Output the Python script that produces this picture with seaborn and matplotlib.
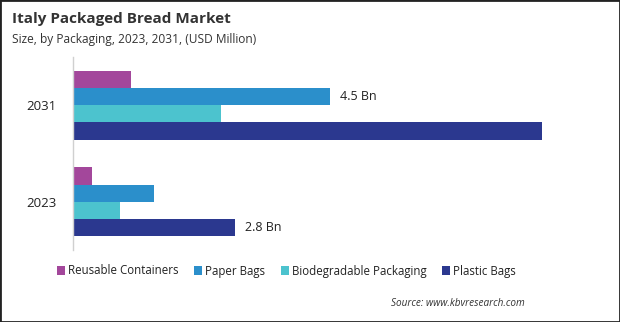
import matplotlib
matplotlib.use("Agg")
import matplotlib.pyplot as plt
import seaborn as sns
import pandas as pd
from matplotlib.patches import Rectangle

years = ["2031", "2023"]
series = ["Reusable Containers", "Paper Bags", "Biodegradable Packaging", "Plastic Bags"]
values_2031 = [1020, 4490, 2575, 8185]
values_2023 = [323, 1422, 829, 2836]
colors = ["#a3479b", "#2b8fcb", "#4cc3ce", "#2b388f"]
bar_labels = {("2031", "Paper Bags"): "4.5 Bn", ("2023", "Plastic Bags"): "2.8 Bn"}

rows = []
for yr, vals in zip(years, [values_2031, values_2023]):
    for s, v in zip(series, vals):
        rows.append({"Year": yr, "Packaging": s, "Value": v})
df = pd.DataFrame(rows)

sns.set_theme(style="white")
plt.rcParams["font.family"] = ["Open Sans", "DejaVu Sans"]

fig = plt.figure(figsize=(6.2, 3.22), dpi=100)
ax = fig.add_axes([73 / 620, 1 - 250 / 322, 487 / 620, 193 / 322])

sns.barplot(data=df, y="Year", x="Value", hue="Packaging", order=years,
            hue_order=series, palette=colors, orient="h", width=0.715,
            saturation=1, linewidth=0, ax=ax, legend=True)

ax.set_xlim(0, 8500)
ax.set_ylim(1.5, -0.5)
ax.set_xlabel("")
ax.set_ylabel("")
ax.set_xticks([])
for sp in ["top", "right", "bottom"]:
    ax.spines[sp].set_visible(False)
ax.spines["left"].set_color("#d0d0d0")
ax.spines["left"].set_linewidth(1)
ax.tick_params(axis="y", length=0, pad=12, labelsize=9.5, labelcolor="#222222")

# value labels
for cont, s in zip(ax.containers, series):
    for bar, yr in zip(cont, years):
        lab = bar_labels.get((yr, s))
        if lab:
            ax.text(bar.get_width() + 170, bar.get_y() + bar.get_height() / 2, lab,
                    va="center", ha="left", fontsize=9, color="#222222")

leg = ax.get_legend()
handles = leg.legend_handles
leg.remove()
fig.legend(handles, series, loc="center left", bbox_to_anchor=(47 / 620, 1 - 271 / 322),
           ncol=4, frameon=False, fontsize=8.3, handlelength=0.7, handleheight=0.7,
           handletextpad=0.25, columnspacing=1.35, labelcolor="#222222")

fig.text(12 / 620, 1 - 19 / 322, "Italy Packaged Bread Market", fontsize=11,
         fontweight="bold", color="#333333", va="center", ha="left")
fig.text(12 / 620, 1 - 39 / 322, "Size, by Packaging, 2023, 2031, (USD Million)",
         fontsize=8.6, color="#333333", va="center", ha="left")
fig.text(525 / 620, 1 - 304 / 322, "Source: www.kbvresearch.com", fontsize=7.2,
         style="italic", color="#333333", va="center", ha="right")

fig.patches.append(Rectangle((0, 0), 1, 1, transform=fig.transFigure, fill=False,
                             edgecolor="#222222", linewidth=2))

fig.savefig("out.png", dpi=100)
